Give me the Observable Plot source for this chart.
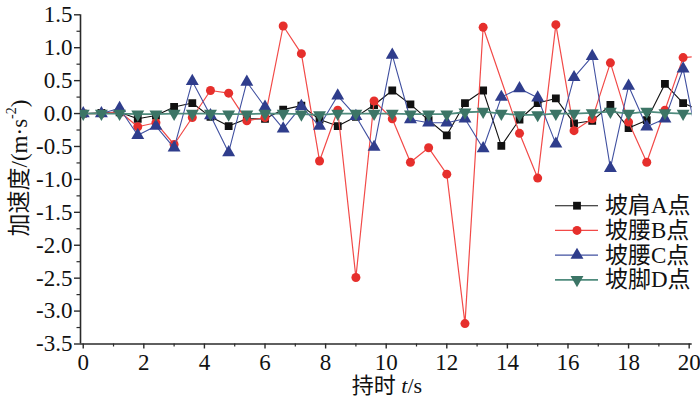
<!DOCTYPE html>
<html><head><meta charset="utf-8">
<script src="https://cdn.jsdelivr.net/npm/d3@7"></script>
<script src="https://cdn.jsdelivr.net/npm/@observablehq/plot@0.6"></script>
<style>body{margin:0;background:#fff} #chart svg{display:block}</style>
</head><body><div id="chart"></div>
<script>
// time (s)
const times = [0, 0.6, 1.2, 1.8, 2.4, 3.0, 3.6, 4.2, 4.8, 5.4, 6.0, 6.6, 7.2, 7.8, 8.4, 9.0, 9.6, 10.2, 10.8, 11.4, 12.0, 12.6, 13.2, 13.8, 14.4, 15.0, 15.6, 16.2, 16.8, 17.4, 18.0, 18.6, 19.2, 19.8, 20.4];
// 坡肩A点
const seriesA = [0, 0.01, 0.02, -0.08, -0.03, 0.10, 0.16, -0.05, -0.19, -0.08, -0.08, 0.06, 0.12, -0.09, -0.19, -0.05, 0.13, 0.35, 0.14, -0.10, -0.33, 0.16, 0.35, -0.49, -0.09, 0.16, 0.23, -0.15, -0.11, 0.13, -0.22, -0.10, 0.45, 0.16, 0.04];
// 坡腰B点 (no marker visible at 13.8 s)
const seriesB = [0, 0, 0.03, -0.20, -0.14, -0.47, -0.06, 0.35, 0.31, -0.11, -0.06, 1.33, 0.91, -0.72, 0.05, -2.49, 0.19, -0.08, -0.74, -0.52, -0.92, -3.19, 1.31, null, -0.30, -0.98, 1.35, -0.26, -0.08, 0.77, -0.13, -0.74, 0.05, 0.85, 0.87];
// 坡腰C点
const seriesC = [0, 0, 0.08, -0.33, -0.19, -0.52, 0.49, -0.03, -0.59, 0.48, 0.10, -0.23, 0.11, -0.19, 0.27, -0.04, -0.51, 0.89, -0.09, -0.14, -0.14, -0.08, -0.53, 0.25, 0.38, 0.24, -0.46, 0.55, 0.87, -0.83, 0.42, -0.20, -0.08, 0.68, -0.72];
// 坡脚D点
const seriesD = [0, 0, 0, -0.01, -0.01, 0, 0, 0, -0.01, -0.01, 0, 0, -0.01, -0.02, 0, 0, 0, 0, -0.01, -0.01, -0.01, 0.02, 0.03, 0, -0.02, -0.02, 0, 0, 0.01, 0.03, 0, 0.03, 0.01, 0, 0];

const seriesNames = ["坡肩A点", "坡腰B点", "坡腰C点", "坡脚D点"];
const xTicks = [0, 2, 4, 6, 8, 10, 12, 14, 16, 18, 20];
const xMinorTicks = [1, 3, 5, 7, 9, 11, 13, 15, 17, 19];
const yTicks = [-3.5, -3.0, -2.5, -2.0, -1.5, -1.0, -0.5, 0.0, 0.5, 1.0, 1.5];
const yMinorTicks = [-3.25, -2.75, -2.25, -1.75, -1.25, -0.75, -0.25, 0.25, 0.75, 1.25];
const xDomain = [-0.09, 20.1];
const yDomain = [-3.5, 1.5];

const sqrt3 = Math.sqrt(3);
const triangleDown = {
  draw(context, size) {
    const y = Math.sqrt(size / (sqrt3 * 3));
    context.moveTo(0, y * 2);
    context.lineTo(-sqrt3 * y, -y);
    context.lineTo(sqrt3 * y, -y);
    context.closePath();
  }
};

const seriesStyle = [
  {vals: seriesA, line: "#111111", mark: "#111111", symbol: "square", d3sym: d3.symbolSquare, r: 4.4, w: 1.1},
  {vals: seriesB, line: "#f24a48", mark: "#e62f2c", symbol: "circle", d3sym: d3.symbolCircle, r: 4.5, w: 1.2},
  {vals: seriesC, line: "#4050a0", mark: "#2f3d8c", symbol: "triangle", d3sym: d3.symbolTriangle, r: 4.8, w: 1.1},
  {vals: seriesD, line: "#4f8b7d", mark: "#3c7566", symbol: triangleDown, d3sym: triangleDown, r: 4.8, w: 1.8}
];

function rows(vals) {
  return times.map((t, i) => ({t, v: vals[i]})).filter(d => d.v != null);
}

const serif = "'Liberation Serif', 'Times New Roman', 'Noto Sans CJK SC', serif";
const axisColor = "#2a2a2a";

const marks = [
  Plot.ruleY([yDomain[0]], {stroke: axisColor, strokeWidth: 1.6}),
  Plot.ruleX([xDomain[0]], {stroke: axisColor, strokeWidth: 1.6}),
  Plot.axisX({ticks: xTicks, tickSize: 5, tickPadding: 5, tickFormat: d => String(d), label: null, fontSize: 23, fontFamily: serif, stroke: axisColor, strokeWidth: 1.4, fill: "#111"}),
  Plot.axisX({ticks: xMinorTicks, tickSize: 3, tickFormat: () => "", label: null, stroke: axisColor, strokeWidth: 1.2}),
  Plot.axisY({ticks: yTicks, tickSize: 6, tickPadding: 2, tickFormat: d => d.toFixed(1), label: null, fontSize: 23, fontFamily: serif, stroke: axisColor, strokeWidth: 1.4, fill: "#111"}),
  Plot.axisY({ticks: yMinorTicks, tickSize: 3.5, tickFormat: () => "", label: null, stroke: axisColor, strokeWidth: 1.2})
];
for (const s of seriesStyle) {
  const data = rows(s.vals);
  marks.push(Plot.line(data, {x: "t", y: "v", stroke: s.line, strokeWidth: s.w, clip: true}));
  marks.push(Plot.dot(data, {x: "t", y: "v", symbol: s.symbol, r: s.r, fill: s.mark, stroke: "none", clip: true}));
}

const chart = Plot.plot({
  width: 700,
  height: 399,
  marginLeft: 80,
  marginRight: 8.3,
  marginTop: 14.3,
  marginBottom: 55.5,
  x: {domain: xDomain, label: null},
  y: {domain: yDomain, label: null},
  style: {background: "#fff", fontFamily: serif},
  marks
});
document.getElementById("chart").appendChild(chart);

const svg = d3.select(chart);
// y title
const yt = svg.append("text")
  .attr("transform", "translate(19,168) rotate(-90)")
  .attr("text-anchor", "middle")
  .attr("dominant-baseline", "central")
  .style("font-family", serif)
  .style("font-size", "23px")
  .attr("fill", "#111");
yt.append("tspan").text("加速度/(m·s");
yt.append("tspan").attr("dy", -8).style("font-size", "14px").text("-2");
yt.append("tspan").attr("dy", 8).text(")");
// x title
const xt = svg.append("text")
  .attr("x", 387).attr("y", 393)
  .attr("text-anchor", "middle")
  .style("font-family", serif)
  .style("font-size", "22px")
  .attr("fill", "#111");
xt.append("tspan").text("持时 ");
xt.append("tspan").style("font-style", "italic").text("t");
xt.append("tspan").text("/s");

// legend
const lg = svg.append("g");
seriesStyle.forEach((s, k) => {
  const y = 205.7 + k * 24.7;
  lg.append("line").attr("x1", 555).attr("x2", 598).attr("y1", y).attr("y2", y)
    .attr("stroke", s.line).attr("stroke-width", s.w);
  lg.append("path").attr("transform", `translate(577,${y})`)
    .attr("d", d3.symbol(s.d3sym, Math.PI * s.r * s.r)())
    .attr("fill", s.mark);
  lg.append("text").attr("x", 605).attr("y", y)
    .attr("text-anchor", "start")
    .attr("dominant-baseline", "central")
    .style("font-family", serif).style("font-size", "23px")
    .attr("fill", "#111")
    .text(seriesNames[k]);
});
</script>
</body></html>
